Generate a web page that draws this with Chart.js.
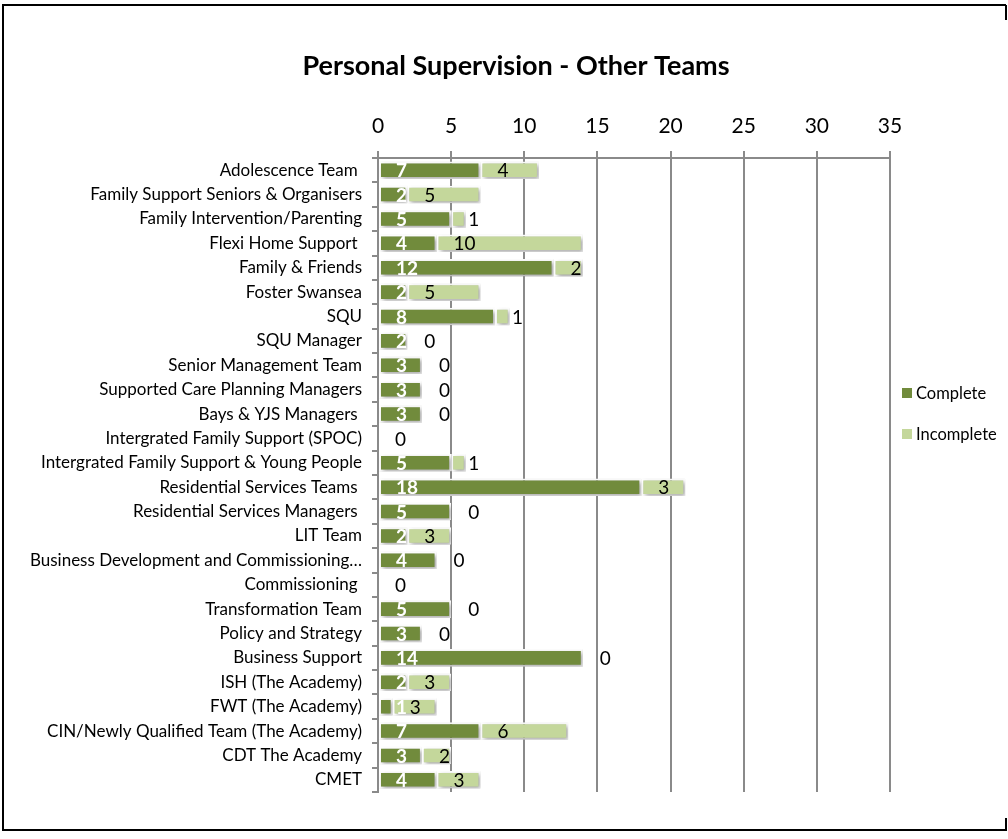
<!DOCTYPE html>
<html>
<head>
<meta charset="utf-8">
<script src="https://cdn.jsdelivr.net/npm/chart.js@4/dist/chart.umd.min.js"></script>
<style>
  html, body { margin: 0; padding: 0; background: #fff; }
  #wrap { width: 1008px; height: 839px; position: relative; }
</style>
</head>
<body>
<div id="wrap"><canvas id="c" width="1008" height="839"></canvas></div>
<script>
const chartTitle = "Personal Supervision - Other Teams";
const categories = [
  "Adolescence Team ",
  "Family Support Seniors & Organisers",
  "Family Intervention/Parenting",
  "Flexi Home Support ",
  "Family & Friends",
  "Foster Swansea",
  "SQU",
  "SQU Manager",
  "Senior Management Team",
  "Supported Care Planning Managers",
  "Bays & YJS Managers ",
  "Intergrated Family Support (SPOC)",
  "Intergrated Family Support & Young People",
  "Residential Services Teams ",
  "Residential Services Managers ",
  "LIT Team",
  "Business Development and Commissioning\u2026",
  "Commissioning ",
  "Transformation Team",
  "Policy and Strategy",
  "Business Support",
  "ISH (The Academy)",
  "FWT (The Academy)",
  "CIN/Newly Qualified Team (The Academy)",
  "CDT The Academy",
  "CMET"
];
const seriesNames = ["Complete", "Incomplete"];
const completeValues   = [7, 2, 5, 4, 12, 2, 8, 2, 3, 3, 3, 0, 5, 18, 5, 2, 4, 0, 5, 3, 14, 2, 1, 7, 3, 4];
const incompleteValues = [4, 5, 1, 10, 2, 5, 1, 0, 0, 0, 0, 0, 1, 3, 0, 3, 0, 0, 0, 0, 0, 3, 3, 6, 2, 3];
const xTickValues = [0, 5, 10, 15, 20, 25, 30, 35];

const FONT = "Lato, 'Open Sans', sans-serif";
const colors = ["#718B3C", "#C4D79B"];
const gridColor = "#8a8a8a";

const shadowPlugin = {
  id: "shadow",
  beforeDatasetsDraw(chart) {
    const ctx = chart.ctx;
    ctx.save();
    ctx.shadowColor = "rgba(0,0,0,0.35)";
    ctx.shadowBlur = 4;
    ctx.shadowOffsetX = 2;
    ctx.shadowOffsetY = 2;
  },
  afterDatasetsDraw(chart) {
    chart.ctx.restore();
  }
};

const labelPlugin = {
  id: "barLabels",
  afterDatasetsDraw(chart) {
    const ctx = chart.ctx;
    ctx.save();
    ctx.textAlign = "left";
    ctx.textBaseline = "middle";
    chart.data.datasets.forEach((ds, di) => {
      const meta = chart.getDatasetMeta(di);
      meta.data.forEach((el, i) => {
        const v = ds.data[i];
        if (di === 0 && v === 0) return;
        const start = Math.min(el.base, el.x);
        ctx.font = (di === 0 ? "bold " : "") + "19px " + FONT;
        ctx.fillStyle = di === 0 ? "#ffffff" : "#000000";
        ctx.fillText(String(v), start + 17, el.y + 1);
      });
    });
    ctx.restore();
  }
};

const decorPlugin = {
  id: "decor",
  afterDraw(chart) {
    const ctx = chart.ctx;
    ctx.save();
    // title
    ctx.font = "bold 27px " + FONT;
    ctx.fillStyle = "#000";
    ctx.textAlign = "center";
    ctx.textBaseline = "middle";
    ctx.fillText(chartTitle, 516, 66);
    // legend
    ctx.font = "16.5px " + FONT;
    ctx.textAlign = "left";
    const ly = [393, 434];
    chart.data.datasets.forEach((ds, di) => {
      ctx.fillStyle = ds.backgroundColor;
      ctx.fillRect(902, ly[di] - 5, 10, 10);
      ctx.fillStyle = "#000";
      ctx.fillText(ds.label, 916, ly[di] + 1);
    });
    // frame
    ctx.strokeStyle = "#000";
    ctx.lineWidth = 2;
    ctx.beginPath();
    ctx.moveTo(3, 831); ctx.lineTo(3, 5); ctx.lineTo(1006, 5);
    ctx.moveTo(1006, 5); ctx.lineTo(1006, 20);
    ctx.moveTo(3, 830); ctx.lineTo(1006, 830);
    ctx.moveTo(1006, 818); ctx.lineTo(1006, 831);
    ctx.stroke();
    ctx.restore();
  }
};

new Chart(document.getElementById("c"), {
  type: "bar",
  data: {
    labels: categories,
    datasets: [
      { label: seriesNames[0], data: completeValues, backgroundColor: colors[0] },
      { label: seriesNames[1], data: incompleteValues, backgroundColor: colors[1] }
    ]
  },
  options: {
    indexAxis: "y",
    responsive: false,
    animation: false,
    devicePixelRatio: 1,
    layout: { padding: { left: 0, right: 118, top: 0, bottom: 47 } },
    datasets: {
      bar: {
        borderColor: "#ffffff",
        borderWidth: 2,
        borderSkipped: false,
        barPercentage: 0.72,
        categoryPercentage: 1
      }
    },
    plugins: {
      legend: { display: false },
      title: { display: false },
      tooltip: { enabled: false }
    },
    scales: {
      x: {
        position: "top",
        stacked: true,
        min: 0,
        max: 35,
        afterBuildTicks(s) { s.ticks = xTickValues.map(v => ({ value: v })); },
        afterFit(s) { s.height = 158; },
        ticks: { color: "#000", font: { family: FONT, size: 21 }, padding: 12 },
        grid: { color: gridColor, lineWidth: 2, tickLength: 7, drawTicks: true },
        border: { color: gridColor, width: 2 }
      },
      y: {
        stacked: true,
        afterFit(s) { s.width = 378; },
        ticks: { color: "#000", font: { family: FONT, size: 17 }, padding: 10, autoSkip: false },
        grid: { drawOnChartArea: false, color: gridColor, lineWidth: 2, tickLength: 6, offset: true },
        border: { color: gridColor, width: 2 }
      }
    }
  },
  plugins: [shadowPlugin, labelPlugin, decorPlugin]
});
</script>
</body>
</html>
